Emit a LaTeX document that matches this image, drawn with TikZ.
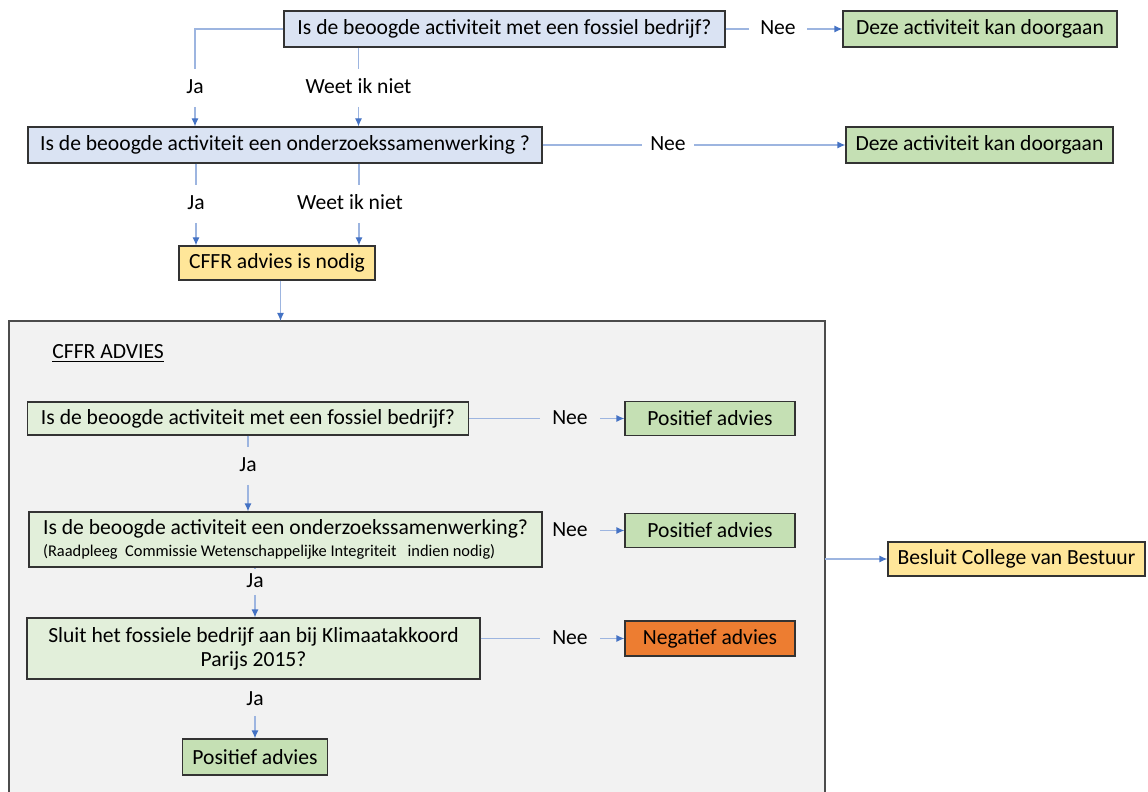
\documentclass[tikz,border=0pt]{standalone}
\usepackage{fontspec}
\setmainfont{Carlito}
\usepackage{xcolor}
\usetikzlibrary{positioning,calc,arrows.meta}

\definecolor{qblue}{HTML}{DAE3F3}
\definecolor{cgreen}{HTML}{E2EFDA}
\definecolor{pgreen}{HTML}{C5E0B4}
\definecolor{ayellow}{HTML}{FFE699}
\definecolor{norange}{HTML}{ED7D31}
\definecolor{framegray}{HTML}{F2F2F2}
\definecolor{linkblue}{HTML}{9DB5E0}
\definecolor{tipblue}{HTML}{4472C4}

\begin{document}
\begin{tikzpicture}[x=0.5pt, y=-0.5pt,
        font=\fontsize{10.8}{13}\selectfont,
        box/.style={draw=black!80, line width=0.6pt, rectangle, inner sep=0pt, align=center},
        qbox/.style={box, fill=qblue},
        cbox/.style={box, fill=cgreen},
        pbox/.style={box, fill=pgreen},
        ybox/.style={box, fill=ayellow},
        nbox/.style={box, fill=norange},
        lbl/.style={text height=7pt, text depth=1.5pt, inner xsep=5.5pt, inner ysep=5pt},
        link/.style={draw=linkblue, line width=0.6pt},
        arr/.style={link, -{Latex[length=4pt, width=3.5pt, color=tipblue]}}
    ]
        \useasboundingbox (0,0) rectangle (1148,792);

        % eerste selectie
        \node [qbox, minimum width=220.5pt, minimum height=18pt] (q1) at (504.5,29) {Is de beoogde activiteit met een fossiel bedrijf?};
        \node [pbox, minimum width=137pt, minimum height=18pt] (d1) at (980,29) {Deze activiteit kan doorgaan};
        \node [lbl] (nee1) at (778,29) {Nee};
        \node [lbl] (ja1) at (195,88) {Ja};
        \node [lbl] (weet1) at (358.5,88) {Weet ik niet};

        \node [qbox, minimum width=257pt, minimum height=18pt] (q2) at (285,145) {Is de beoogde activiteit een onderzoekssamenwerking ?};
        \node [pbox, minimum width=133.5pt, minimum height=18pt] (d2) at (979.5,145) {Deze activiteit kan doorgaan};
        \node [lbl, inner xsep=4pt] (nee2) at (668,145) {Nee};
        \node [lbl] (ja2) at (196,204) {Ja};
        \node [lbl] (weet2) at (350,204) {Weet ik niet};
        \coordinate (w2) at (359,204);

        \node [ybox, minimum width=98pt, minimum height=17pt] (cffr) at (277,263) {CFFR advies is nodig};

        \draw [link] (q1.west) -| (ja1.north);
        \draw [arr] (ja1.south) -- (ja1.south |- q2.north);
        \draw [link] (q1.south -| weet1) -- (weet1.north);
        \draw [arr] (weet1.south) -- (weet1.south |- q2.north);
        \draw [link] (q1.east) -- (nee1.west);
        \draw [arr] (nee1.east) -- (d1.west);
        \draw [link] (q2.east) -- (nee2.west);
        \draw [arr] (nee2.east) -- (d2.west);
        \draw [link] (q2.south -| ja2) -- (ja2.north);
        \draw [arr] (ja2.south) -- (ja2.south |- cffr.north);
        \draw [link] (q2.south -| w2) -- (w2 |- weet2.north);
        \draw [arr] (w2 |- weet2.south) -- (w2 |- cffr.north);

        % CFFR advies
        \draw [draw=black!70, line width=0.8pt, fill=framegray] (9,321) rectangle (825,800);
        \coordinate (ftop) at (280.5,321);
        \coordinate (fright) at (825,559);
        \node [anchor=west, inner sep=0pt] (title) at (52,354) {\underline{CFFR ADVIES}};

        \node [cbox, minimum width=220.75pt, minimum height=16.5pt] (b1) at (248,418.5) {Is de beoogde activiteit met een fossiel bedrijf?};
        \node [pbox, minimum width=85pt, minimum height=17pt] (p1) at (710,418.5) {Positief advies};
        \node [lbl, inner xsep=6pt] (nee3) at (570,418.5) {Nee};
        \node [lbl] (ja3) at (248,466) {Ja};

        \node [cbox, minimum width=256.5pt, minimum height=27.5pt, align=left] (b2) at (285.5,539.5)
            {Is de beoogde activiteit een onderzoekssamenwerking?\\[-2pt]
             {\fontsize{8.2}{10}\selectfont (Raadpleeg\ \ Commissie Wetenschappelijke Integriteit\ \ \ indien\ nodig)}};
        \node [pbox, minimum width=85pt, minimum height=17pt] (p2) at (710,530.5) {Positief advies};
        \node [lbl, inner xsep=6pt] (nee4) at (570,530.5) {Nee};
        \node [lbl, inner ysep=2pt] (ja4) at (255,582) {Ja};

        \node [cbox, minimum width=226.5pt, minimum height=30.5pt] (b3) at (253.5,648.5)
            {Sluit het fossiele bedrijf aan bij Klimaatakkoord\\[-1pt]Parijs 2015?};
        \node [nbox, minimum width=85pt, minimum height=17.5pt] (n1) at (710,638.5) {Negatief advies};
        \node [lbl, inner xsep=6pt] (nee5) at (570,638.5) {Nee};
        \node [lbl, inner ysep=3.5pt] (ja5) at (255,700) {Ja};
        \node [pbox, minimum width=72.25pt, minimum height=18pt] (p3) at (255,757) {Positief advies};

        \node [ybox, minimum width=128.5pt, minimum height=17pt] (besluit) at (1016.5,559) {Besluit College van Bestuur};

        \draw [arr] (cffr.south -| ftop) -- (ftop);
        \draw [link] (b1.east) -- (nee3.west);
        \draw [arr] (nee3.east) -- (p1.west);
        \draw [link] (b1.south -| ja3) -- (ja3.north);
        \draw [arr] (ja3.south) -- (ja3.south |- b2.north);
        \draw [arr] (nee4.east) -- (p2.west);
        \draw [link] (b2.south -| ja4) -- (ja4.north);
        \draw [arr] (ja4.south) -- (ja4.south |- b3.north);
        \draw [link] (b3.east |- nee5.west) -- (nee5.west);
        \draw [arr] (nee5.east) -- (n1.west);
        \draw [arr] (ja5.south) -- (ja5.south |- p3.north);
        \draw [arr] (fright) -- (besluit.west);
\end{tikzpicture}
\end{document}
